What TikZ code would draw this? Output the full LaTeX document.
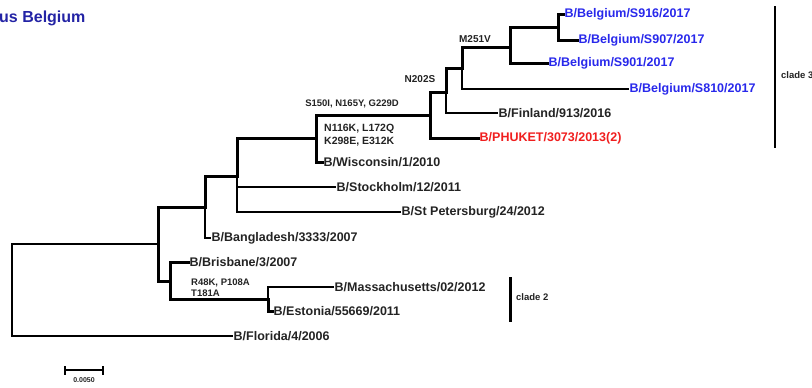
\documentclass[tikz,border=0pt]{standalone}
\usepackage{fontspec}
\setmainfont{Liberation Sans}
\definecolor{belblue}{RGB}{40,40,235}
\definecolor{titleblue}{RGB}{35,35,165}
\definecolor{phred}{RGB}{240,30,30}
\definecolor{txt}{RGB}{35,35,35}
\tikzset{
  leaf/.style={anchor=west,inner sep=1.5pt,font=\fontsize{12.5}{13}\selectfont\bfseries,text=txt},
  bleaf/.style={leaf,text=belblue},
  rleaf/.style={leaf,text=phred},
  mut/.style={inner sep=0pt,font=\fontsize{9.5}{11.5}\selectfont\bfseries,text=txt,align=left},
  thinb/.style={line width=1.6pt},
  thickb/.style={line width=3pt},
  cladebar/.style={line width=2.4pt},
  cladelab/.style={anchor=west,inner sep=1pt,font=\fontsize{9.5}{10}\selectfont\bfseries,text=txt}
}
\begin{document}
\begin{tikzpicture}[x=1pt,y=-1pt,line cap=rect]
\useasboundingbox (0,0) rectangle (812,388);
% title
\node[anchor=west,inner sep=0pt,font=\fontsize{16}{18}\selectfont\bfseries,text=titleblue] (title) at (-1,18) {us Belgium};
% internal nodes
\coordinate (root) at (12,289.5);
\coordinate (A) at (158,244);
\coordinate (B) at (205,207);
\coordinate (D) at (237,176);
\coordinate (E) at (316,138);
\coordinate (F) at (430,115);
\coordinate (G) at (446,92);
\coordinate (I) at (462,68);
\coordinate (H) at (510,47);
\coordinate (J) at (558,27);
\coordinate (C) at (170,281);
\coordinate (K) at (268,299);
% leaves
\node[bleaf] (s916) at (563,14) {B/Belgium/S916/2017};
\node[bleaf] (s907) at (577,40) {B/Belgium/S907/2017};
\node[bleaf] (s901) at (547,63) {B/Belgium/S901/2017};
\node[bleaf] (s810) at (628,89) {B/Belgium/S810/2017};
\node[leaf] (fin) at (497,113) {B/Finland/913/2016};
\node[rleaf] (phu) at (478,138) {B/PHUKET/3073/2013(2)};
\node[leaf] (wis) at (322,162) {B/Wisconsin/1/2010};
\node[leaf] (sto) at (335,187) {B/Stockholm/12/2011};
\node[leaf] (stp) at (400,212) {B/St Petersburg/24/2012};
\node[leaf] (ban) at (210,238) {B/Bangladesh/3333/2007};
\node[leaf] (bri) at (188,262) {B/Brisbane/3/2007};
\node[leaf] (mas) at (333,287) {B/Massachusetts/02/2012};
\node[leaf] (est) at (272,311) {B/Estonia/55669/2011};
\node[leaf] (flo) at (232,336) {B/Florida/4/2006};
% branches
\draw[thinb] (root) |- (A);
\draw[thinb] (root) |- (flo.west);
\draw[thickb] (A) |- (B);
\draw[thickb] (A) |- (C);
\draw[thickb] (B) |- (D);
\draw[thinb] (B) |- (ban.west);
\draw[thickb] (D) |- (E);
\draw[thinb] (D) |- (sto.west);
\draw[thinb] (D) |- (stp.west);
\draw[thickb] (E) |- (F);
\draw[thickb] (E) |- (wis.west);
\draw[thickb] (F) |- (G);
\draw[thickb] (F) |- (phu.west);
\draw[thickb] (G) |- (I);
\draw[thinb] (G) |- (fin.west);
\draw[thickb] (I) |- (H);
\draw[thinb] (I) |- (s810.west);
\draw[thickb] (H) |- (J);
\draw[thickb] (H) |- (s901.west);
\draw[thickb] (J) |- (s916.west);
\draw[thickb] (J) |- (s907.west);
\draw[thickb] (C) |- (bri.west);
\draw[thickb] (C) |- (K);
\draw[thinb] (K) |- (mas.west);
\draw[thickb] (K) |- (est.west);
% mutation labels
\node[mut] (m1) at (352,104) {S150I, N165Y, G229D};
\node[mut,anchor=west,font=\fontsize{10.5}{13.5}\selectfont\bfseries] (m2) at (324,135) {N116K, L172Q\\K298E, E312K};
\node[mut,font=\fontsize{10}{11}\selectfont\bfseries] (m3) at (475,39) {M251V};
\node[mut,font=\fontsize{10}{11}\selectfont\bfseries] (m4) at (420,79) {N202S};
\node[mut,anchor=west] (m5) at (191,287.5) {R48K, P108A\\T181A};
% clade bars
\coordinate (c3t) at (775,7);
\coordinate (c3b) at (775,147);
\draw[cladebar] (c3t) -- (c3b);
\node[cladelab] (c3) at (780,75) {clade 3};
\coordinate (c2t) at (510,278);
\coordinate (c2b) at (510,320);
\draw[line width=3pt] (c2t) -- (c2b);
\node[cladelab] (c2) at (515,297) {clade 2};
% scale bar
\coordinate (sbl) at (65,370);
\coordinate (sbr) at (103,370);
\draw[line width=1.6pt,line cap=butt] (sbl) -- (sbr);
\draw[line width=1.6pt,line cap=butt] ([yshift=-4.5pt]sbl) -- ([yshift=4.5pt]sbl);
\draw[line width=1.6pt,line cap=butt] ([yshift=-4.5pt]sbr) -- ([yshift=4.5pt]sbr);
\node[inner sep=0pt,font=\fontsize{7}{7}\selectfont\bfseries,text=txt] (sbt) at (84,380) {0.0050};
\end{tikzpicture}
\end{document}
